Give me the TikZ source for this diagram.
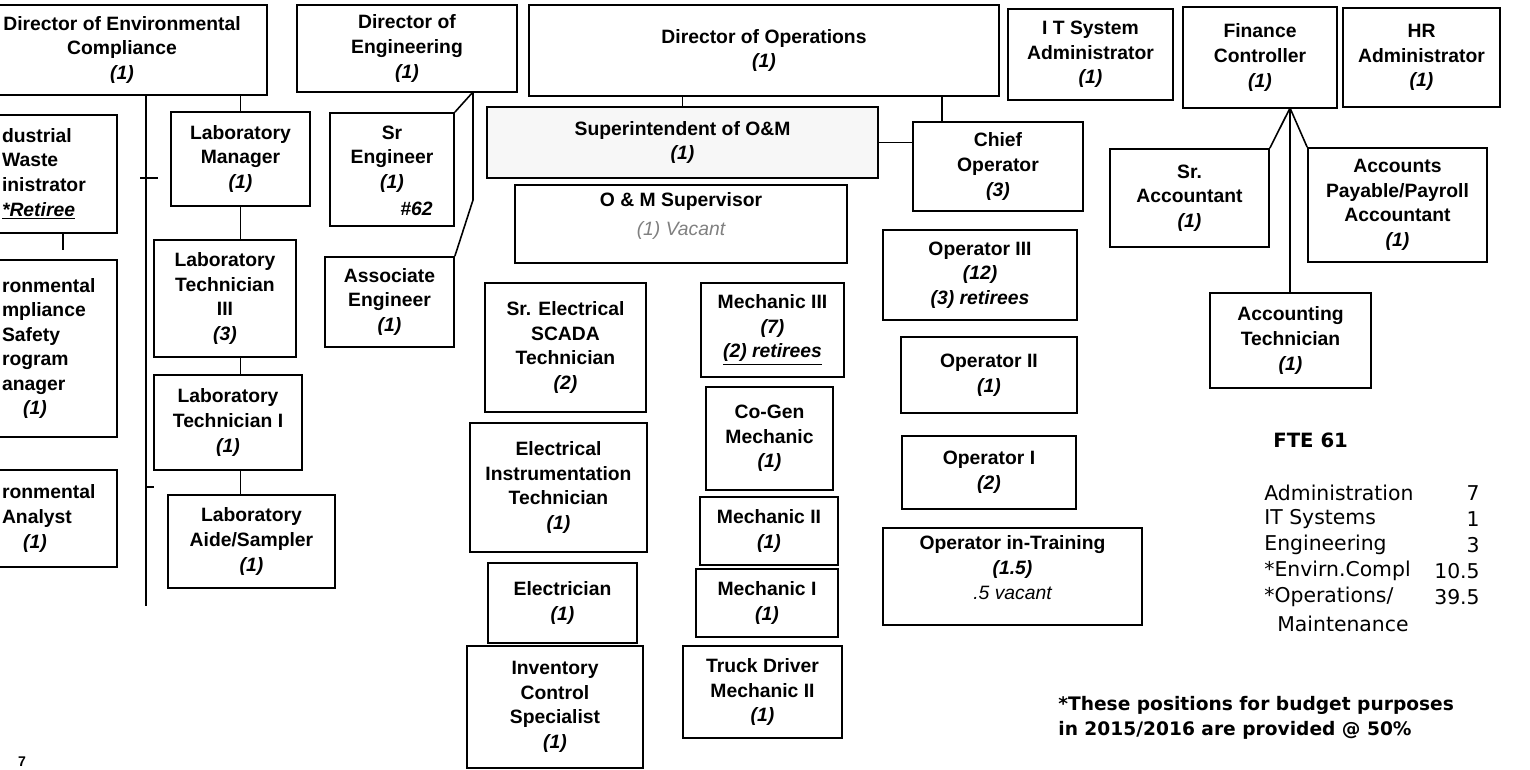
\documentclass[tikz,border=0pt]{standalone}
\usepackage{fontspec}
\setmainfont{Liberation Sans}
\newfontfamily\legendfont{DejaVu Sans}
\usetikzlibrary{positioning}
\newcommand{\boxfont}{\fontsize{11}{14}\selectfont\bfseries}
\newcommand{\hc}[1]{{\itshape(#1)}}
\tikzset{
box/.style={draw, line width=1pt, align=center, inner sep=2pt, font=\boxfont}, % every position box
boxsize/.style 2 args={minimum width=#1*0.02cm, minimum height=#2*0.02cm}, % box size in pixels of the scan
cutbox/.style={align=left, text width=2.18cm, inner xsep=0.12cm}, % boxes cut by the left edge
link/.style={line width=0.9pt}, % reporting lines
legend/.style={font=\legendfont\fontsize{11.6}{14}\selectfont, inner sep=0pt}, % FTE table
}

\begin{document}
\begin{tikzpicture}[x=0.02cm, y=-0.02cm]
\useasboundingbox (0,0) rectangle (1530,770);
\clip (0,0) rectangle (1530,770);

% top row
\node[box, boxsize={290}{90}] (envdir) at (122,50) {Director of Environmental\\Compliance\\\hc{1}};
\node[box, boxsize={220}{87}] (deng) at (407,48.5) {Director of\\Engineering\\\hc{1}};
\node[box, boxsize={470}{91}] (dops) at (764,50.5) {Director of Operations\\\hc{1}};
\node[box, boxsize={165}{91}] (itadm) at (1090.5,54.5) {I T System\\Administrator\\\hc{1}};
\node[box, boxsize={154}{101}] (finctl) at (1260,57.5) {Finance\\Controller\\\hc{1}};
\node[box, boxsize={157}{99}] (hradm) at (1421.5,57.5) {HR\\Administrator\\\hc{1}};

% environmental compliance
\node[box, cutbox, boxsize={121}{118}] (iwaste) at (56.5,174) {dustrial\\Waste\\inistrator\\\underline{\itshape *Retiree}};
\node[box, cutbox, boxsize={121}{177}] (ecsafety) at (56.5,348.5) {ronmental\\mpliance\\Safety\\rogram\\anager\\\hspace*{12pt}\hc{1}};
\node[box, cutbox, boxsize={121}{97}] (envanal) at (56.5,518.5) {ronmental\\Analyst\\\hspace*{12pt}\hc{1}};
\node[box, boxsize={139}{94}] (labmgr) at (240.5,159) {Laboratory\\Manager\\\hc{1}};
\node[box, boxsize={142}{117}] (labtech3) at (225,298.5) {Laboratory\\Technician\\III\\\hc{3}};
\node[box, boxsize={148}{95}] (labtech1) at (228,422.5) {Laboratory\\Technician I\\\hc{1}};
\node[box, boxsize={167}{93}] (labaide) at (251.5,541.5) {Laboratory\\Aide/Sampler\\\hc{1}};

\coordinate (spineEnd) at (146,606);
\coordinate (tickAl) at (140,178);
\coordinate (tickAr) at (158,178);
\coordinate (tickBr) at (154,487);
\coordinate (iwTick) at (63,250);
\draw[link] (spineEnd |- envdir.south) -- (spineEnd);
\draw[link] (tickAl) -- (tickAr);
\draw[link] (tickBr -| spineEnd) -- (tickBr);
\draw[link] (iwTick |- iwaste.south) -- (iwTick);
\draw[link] (labmgr.north) -- (labmgr.north |- envdir.south);
\draw[link] (labmgr.south) -- (labmgr.south |- labtech3.north);
\draw[link] (labtech3.south -| labmgr) -- (labtech1.north -| labmgr);
\draw[link] (labtech1.south -| labmgr) -- (labaide.north -| labmgr);

% engineering
\node[box, boxsize={124}{113}] (srEng) at (392,169.5) {Sr\\Engineer\\\hc{1}\\~};
\node[font=\boxfont\itshape, anchor=east, inner sep=0pt] (srEngNo) at (433,209) {\#62};
\node[box, boxsize={129}{90}] (assocEng) at (389.5,302) {Associate\\Engineer\\\hc{1}};
\coordinate (engTap) at (473,92);
\coordinate (engBend) at (473,200);
\draw[link] (engTap) -- (srEng.north east);
\draw[link] (engTap) -- (engBend) -- (assocEng.north east);

% operations and maintenance
\node[box, boxsize={391}{71}, fill=gray!6] (supt) at (682.5,142.5) {Superintendent of O\&M\\\hc{1}};
\node[box, boxsize={170}{89}] (chief) at (998,166.5) {Chief\\Operator\\\hc{3}};
\node[box, boxsize={332}{78}] (omsup) at (681,224) {O \& M Supervisor\\[3pt]{\mdseries\itshape\color{gray}(1) Vacant}\\[-2.6pt]};
\node[box, boxsize={161}{129}] (sreScada) at (565.5,347.5) {Sr. Electrical\\SCADA\\Technician\\\hc{2}};
\node[box, boxsize={177}{129}] (elInstr) at (558.5,487.5) {Electrical\\Instrumentation\\Technician\\\hc{1}};
\node[box, boxsize={149}{80}] (elec) at (562.5,603) {Electrician\\\hc{1}};
\node[box, boxsize={176}{122}] (invCtl) at (555,707) {Inventory\\Control\\Specialist\\\hc{1}};
\node[box, boxsize={143}{94}] (mech3) at (772.5,330) {Mechanic III\\\hc{7}\\\underline{\itshape (2) retirees}};
\node[box, boxsize={127}{103}] (cogen) at (769.5,438.5) {Co-Gen\\Mechanic\\\hc{1}};
\node[box, boxsize={138}{68}] (mech2) at (769,531) {Mechanic II\\\hc{1}};
\node[box, boxsize={142}{68}] (mech1) at (767,603) {Mechanic I\\\hc{1}};
\node[box, boxsize={159}{92}] (truck) at (762.5,692) {Truck Driver\\Mechanic II\\\hc{1}};
\node[box, boxsize={194}{90}] (op3) at (980,275) {Operator III\\\hc{12}\\{\itshape (3) retirees}};
\node[box, boxsize={176}{76}] (op2) at (989,375) {Operator II\\\hc{1}};
\node[box, boxsize={174}{73}] (op1) at (989,472.5) {Operator I\\\hc{2}};
\node[box, boxsize={259}{97}] (opTrain) at (1012.5,576.5) {Operator in-Training\\\hc{1.5}\\{\mdseries\itshape .5 vacant}\\[-3.8pt]};
\coordinate (chiefTap) at (942,122);
\draw[link] (supt.north) -- (supt.north |- dops.south);
\draw[link] (chiefTap) -- (chiefTap |- dops.south);
\draw[link] (supt.east) -- (supt.east -| chief.west);

% finance
\node[box, boxsize={159}{98}] (srAcct) at (1189.5,198) {Sr.\\Accountant\\\hc{1}};
\node[box, boxsize={179}{114}] (apAcct) at (1397.5,205) {Accounts\\Payable/Payroll\\Accountant\\\hc{1}};
\node[box, boxsize={161}{95}] (acctTech) at (1290.5,340.5) {Accounting\\Technician\\\hc{1}};
\coordinate (finTap) at (1290,108);
\draw[link] (finTap) -- (srAcct.north east);
\draw[link] (finTap) -- (apAcct.north west);
\draw[link] (finTap) -- (finTap |- acctTech.north);

% head count
\node[legend, font=\legendfont\bfseries\fontsize{11.2}{14}\selectfont, anchor=west] (fte) at (1273,440) {FTE 61};
\foreach \lbl/\num [count=\i from 0] in {Administration/7, IT Systems/1, Engineering/3, *Envirn.Compl/10.5, {*Operations/}/39.5} {
  \node[legend, anchor=west] (leg\i) at (1264,493+26*\i) {\lbl};
  \node[legend, anchor=east] (legNum\i) at (1480,493+26*\i) {\num};
}
\node[legend, anchor=west] (legMaint) at (1277,624) {Maintenance};
\node[legend, font=\legendfont\bfseries\fontsize{10.6}{14}\selectfont, anchor=west] (note1) at (1058,705) {*These positions for budget purposes};
\node[legend, font=\legendfont\bfseries\fontsize{10.6}{14}\selectfont, anchor=west] (note2) at (1058,730) {in 2015/2016 are provided @ 50\%};
\node[font=\bfseries\fontsize{8}{8}\selectfont] (pageNo) at (22,762) {7};
\end{tikzpicture}
\end{document}
